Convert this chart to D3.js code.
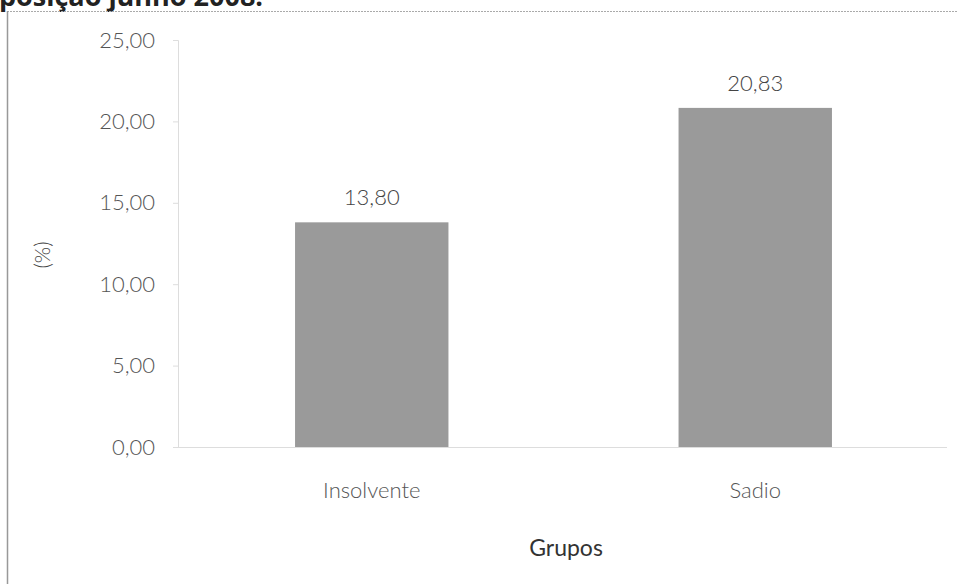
<!DOCTYPE html>
<html>
<head>
<meta charset="utf-8">
<script src="https://cdn.jsdelivr.net/npm/d3@7.9.0/dist/d3.min.js"></script>
<style>
  html, body { margin: 0; padding: 0; background: #fff; }
  svg { display: block; }
</style>
</head>
<body>
<div id="chart"></div>
<script>
// --- DATA ---
const titleText = 'posição junho 2008.';
const groups = ['Insolvente', 'Sadio'];
const percents = [13.80, 20.83];
const yTicks = [0, 5, 10, 15, 20, 25];
const xLabel = 'Grupos';
const yLabel = '(%)';

const W = 961, H = 584;
const fmt = v => v.toFixed(2).replace('.', ',');
const font = 'Lato, "Open Sans", sans-serif';

const svg = d3.select('#chart').append('svg')
  .attr('width', W).attr('height', H);

// title cut off by the page above, as in the scan
svg.append('text')
  .attr('x', -1).attr('y', 6)
  .attr('font-family', '"Open Sans", sans-serif')
  .attr('font-weight', 'bold')
  .attr('font-size', 27)
  .attr('fill', '#222')
  .text(titleText);

// frame (only top and left edges show)
svg.append('line')
  .attr('x1', 7).attr('x2', 958).attr('y1', 11.5).attr('y2', 11.5)
  .attr('stroke', '#aaa').attr('stroke-width', 1).attr('stroke-dasharray', '2,1');
svg.append('line')
  .attr('x1', 7.5).attr('x2', 7.5).attr('y1', 11).attr('y2', H)
  .attr('stroke', '#999').attr('stroke-width', 1.5);

const x = d3.scaleBand()
  .domain(groups)
  .range([180, 947])
  .paddingInner(0.6)
  .paddingOuter(0.3);

const y = d3.scaleLinear()
  .domain([0, 25])
  .range([447, 40]);

// y axis
const yAxis = svg.append('g')
  .attr('transform', 'translate(178,0)')
  .call(d3.axisLeft(y).tickValues(yTicks).tickFormat(fmt).tickSize(5).tickPadding(18));
yAxis.select('.domain').attr('stroke', '#ddd');
yAxis.selectAll('.tick line').attr('stroke', '#ddd');
yAxis.selectAll('text')
  .attr('font-family', font).attr('font-weight', 300)
  .attr('font-size', 22).attr('fill', '#555');

// x axis
const xAxis = svg.append('g')
  .attr('transform', 'translate(0,447.5)')
  .call(d3.axisBottom(x).tickSize(0).tickPadding(35));
xAxis.select('.domain').attr('stroke', '#ddd').attr('d', 'M178,0H947');
xAxis.selectAll('text')
  .attr('font-family', font).attr('font-weight', 300)
  .attr('font-size', 22).attr('fill', '#555');

// bars
svg.selectAll('rect.bar')
  .data(groups)
  .join('rect')
  .attr('class', 'bar')
  .attr('x', d => x(d))
  .attr('width', x.bandwidth())
  .attr('y', (d, i) => y(percents[i]))
  .attr('height', (d, i) => y(0) - y(percents[i]))
  .attr('fill', '#9a9a9a');

// value labels
svg.selectAll('text.val')
  .data(groups)
  .join('text')
  .attr('class', 'val')
  .attr('x', d => x(d) + x.bandwidth() / 2)
  .attr('y', (d, i) => y(percents[i]) - 17)
  .attr('text-anchor', 'middle')
  .attr('font-family', font).attr('font-weight', 300)
  .attr('font-size', 22).attr('fill', '#444')
  .text((d, i) => fmt(percents[i]));

// axis titles
svg.append('text')
  .attr('x', 566).attr('y', 556)
  .attr('text-anchor', 'middle')
  .attr('font-family', font).attr('font-size', 23).attr('fill', '#333')
  .text(xLabel);

svg.append('text')
  .attr('transform', 'translate(50,255) rotate(-90)')
  .attr('text-anchor', 'middle')
  .attr('font-family', font).attr('font-weight', 300)
  .attr('font-size', 21).attr('fill', '#444')
  .text(yLabel);
</script>
</body>
</html>
